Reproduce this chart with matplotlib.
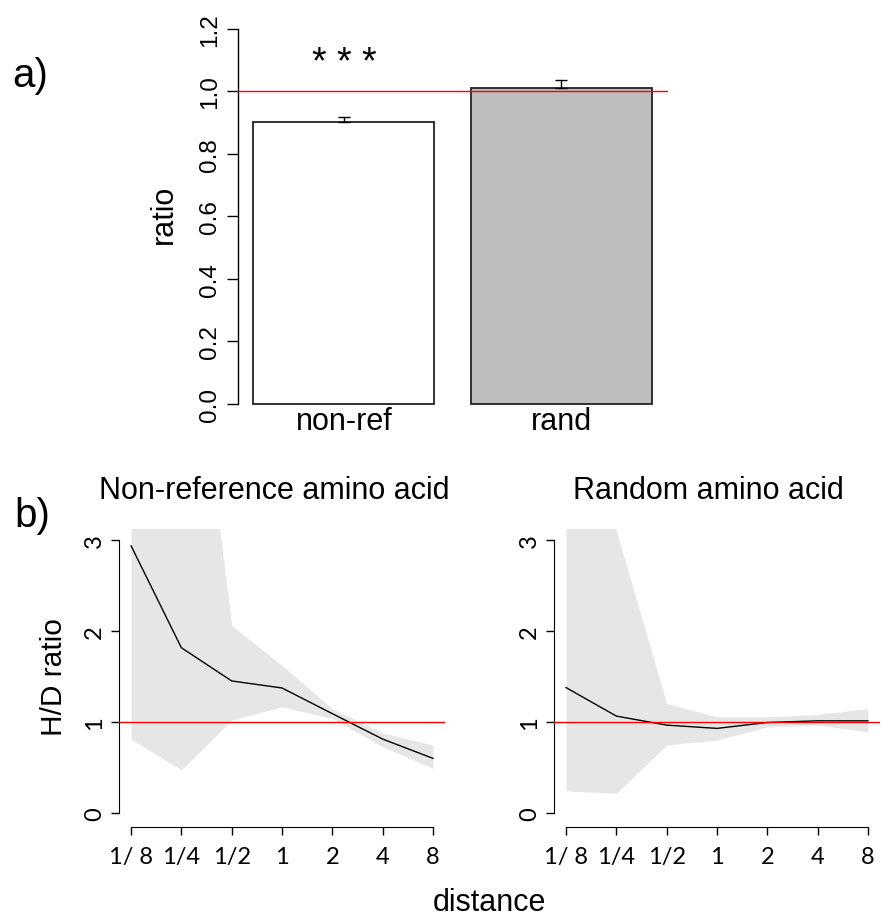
import numpy as np
import matplotlib
matplotlib.use("Agg")
import matplotlib.pyplot as plt
from matplotlib import transforms

# ---------------------------------------------------------------------
# Data
# ---------------------------------------------------------------------

# a) bar chart of ratios
bar_names = ["non-ref", "rand"]
bar_values = [0.902, 1.010]
bar_err_up = [0.015, 0.025]
bar_colors = ["white", "#bebebe"]

# b) H/D ratio against distance
distances = [1 / 8, 1 / 4, 1 / 2, 1, 2, 4, 8]
distance_labels = ["1/ 8", "1/4", "1/2", "1", "2", "4", "8"]

nonref_mid = [2.935, 1.816, 1.451, 1.374, 1.092, 0.813, 0.601]
nonref_low = [0.813, 0.474, 1.021, 1.167, 1.039, 0.729, 0.492]
nonref_high = [9.0, 6.47, 2.06, 1.622, 1.148, 0.880, 0.747]

rand_mid = [1.378, 1.065, 0.966, 0.930, 0.995, 1.013, 1.013]
rand_low = [0.244, 0.219, 0.747, 0.802, 0.948, 0.966, 0.893]
rand_high = [5.0, 3.10, 1.203, 1.057, 1.057, 1.083, 1.148]


# ---------------------------------------------------------------------
# Figure layout (pixel based, 889 x 920)
# ---------------------------------------------------------------------

W, H = 889, 920
plt.rcParams["font.family"] = ["Liberation Sans", "DejaVu Sans"]

fig = plt.figure(figsize=(W / 100, H / 100), dpi=100)


def rect(x0, y0, x1, y1):
    # pixel box (top-left origin) -> figure fraction rect
    return [x0 / W, 1 - y1 / H, (x1 - x0) / W, (y1 - y0) / H]


def fpos(px, py):
    return px / W, 1 - py / H


# ---------------------------------------------------------------------
# a) bars
# ---------------------------------------------------------------------

ax = fig.add_axes(rect(237.5, 14.7, 667.5, 420))
xs = [0.7, 1.9]
ax.bar(xs, bar_values, width=1.0, color=bar_colors,
       edgecolor="#222222", linewidth=1.3, zorder=2)
ax.errorbar(xs, bar_values, yerr=[[0, 0], bar_err_up], fmt="none",
            ecolor="black", elinewidth=1, capsize=4, capthick=1, zorder=3)
ax.axhline(1.0, color="red", lw=1, zorder=4)

ax.set_xlim(0.112, 2.488)
ax.set_ylim(-0.048, 1.248)
for s in ["top", "right", "bottom"]:
    ax.spines[s].set_visible(False)
ax.spines["left"].set_bounds(0, 1.2)
ax.spines["left"].set_linewidth(1)
ax.set_xticks([])
ax.set_yticks(np.arange(0, 1.21, 0.2))
ax.set_yticklabels([f"{v:.1f}" for v in np.arange(0, 1.21, 0.2)],
                   rotation=90, va="center", fontsize=17.5)
ax.tick_params(axis="y", length=8, width=1, pad=4)

name_tr = transforms.blended_transform_factory(ax.transData, fig.transFigure)
for x, name in zip(xs, bar_names):
    ax.text(x, 1 - 430 / H, name, transform=name_tr, ha="center",
            va="baseline", fontsize=22)

ax.text(xs[0], 1.09, "* * *", ha="center", va="center", fontsize=27)

fig.text(*fpos(164, 214), "ratio", rotation=90, ha="center", va="center",
         fontsize=22)
fig.text(*fpos(30, 76), "a)", ha="center", va="center", fontsize=29)


# ---------------------------------------------------------------------
# b) H/D ratio panels
# ---------------------------------------------------------------------

panels = [
    (119, "Non-reference amino acid", nonref_mid, nonref_low, nonref_high),
    (554, "Random amino acid", rand_mid, rand_low, rand_high),
]

for left, title, mid, low, high in panels:
    bx = fig.add_axes(rect(left, 530, left + 326, 825))
    bx.fill_between(distances, low, high, color="#e6e6e6", lw=0, zorder=1)
    bx.plot(distances, mid, color="black", lw=1, zorder=2)
    bx.axhline(1.0, color="red", lw=1, zorder=3)

    bx.set_xscale("log", base=2)
    bx.set_xlim(2 ** -3.24, 2 ** 3.24)
    bx.set_ylim(-0.12, 3.12)
    bx.minorticks_off()

    for s in ["top", "right"]:
        bx.spines[s].set_visible(False)
    bx.spines["left"].set_bounds(0, 3)
    bx.spines["bottom"].set_bounds(distances[0], distances[-1])
    bx.spines["bottom"].set_position(("outward", 2))

    bx.set_xticks(distances)
    bx.set_xticklabels(distance_labels, fontsize=17,
                       family=["Lato", "DejaVu Sans"])
    bx.set_yticks([0, 1, 2, 3])
    bx.set_yticklabels(["0", "1", "2", "3"], rotation=90, va="center",
                       fontsize=17, family=["Lato", "DejaVu Sans"])
    bx.tick_params(axis="both", length=6, width=1)
    bx.tick_params(axis="x", pad=8)
    bx.tick_params(axis="y", pad=4)

    # title sits 31 px above the plot area
    title_tr = bx.transAxes + transforms.ScaledTranslation(
        0, 31 / 100, fig.dpi_scale_trans)
    bx.text(0.475, 1.0, title, transform=title_tr, ha="center",
            va="baseline", fontsize=22)

fig.text(*fpos(54, 677), "H/D ratio", rotation=90, ha="center",
         va="center", fontsize=21.5)
fig.text(*fpos(32, 516), "b)", ha="center", va="center", fontsize=29)
fig.text(*fpos(489, 911), "distance", ha="center", va="baseline",
         fontsize=22)

fig.savefig("out.png", dpi=100)
